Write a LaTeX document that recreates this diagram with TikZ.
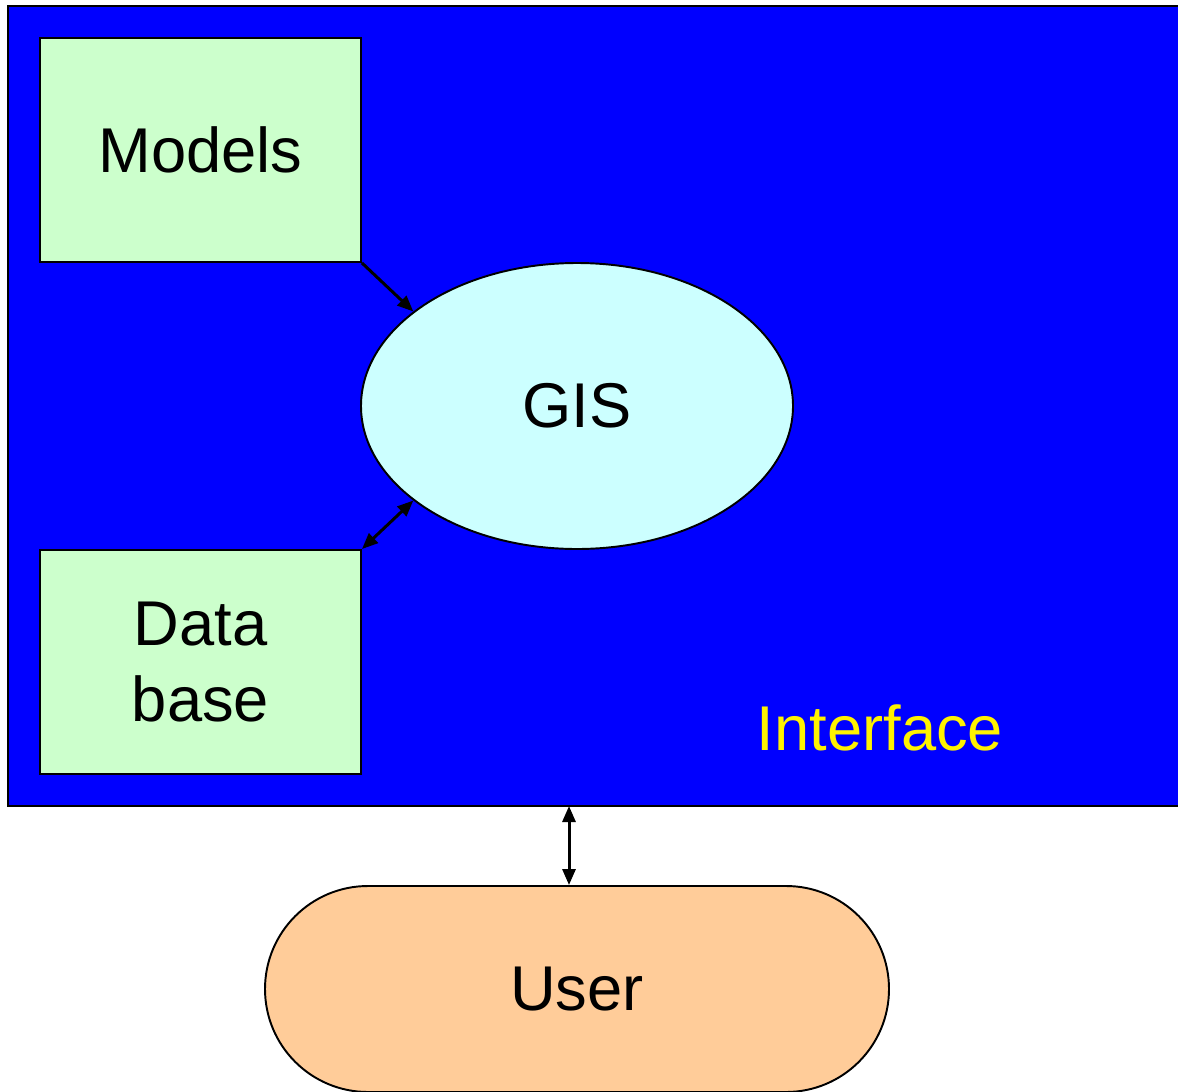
\documentclass[tikz,border=0pt]{standalone}
\usepackage{fontspec}
\setmainfont{Liberation Sans}
\usepackage{tikz}
\usetikzlibrary{arrows.meta,shapes.geometric,positioning}

\definecolor{ifblue}{HTML}{0000FF}
\definecolor{boxgreen}{HTML}{CCFFCC}
\definecolor{gislight}{HTML}{CCFFFF}
\definecolor{userorange}{HTML}{FFCC99}

\begin{document}
\begin{tikzpicture}[>={Triangle[length=0.32cm,width=0.26cm]},font=\fontsize{36}{43}\selectfont]
		\tikzstyle{frame}=[rectangle, draw=black, line width=1.1pt, fill=ifblue, minimum width=23.64cm, minimum height=16cm, inner sep=0pt]
		\tikzstyle{store}=[rectangle, draw=black, line width=1.1pt, fill=boxgreen, minimum width=6.42cm, minimum height=4.48cm, align=center]
		\tikzstyle{core}=[ellipse, draw=black, line width=1.1pt, fill=gislight, minimum width=8.64cm, minimum height=5.72cm]
		\tikzstyle{person}=[rectangle, rounded corners=2.06cm, draw=black, line width=1.1pt, fill=userorange, minimum width=12.48cm, minimum height=4.12cm]
		\tikzstyle{link}=[line width=1.7pt]

		\useasboundingbox (0,0) rectangle (23.56,-21.82);

		\node [frame] (iface) at (11.98,-8.12) {};
		\node [store] (models) at (4.01,-3) {Models};
		\node [store] (data) at (4.01,-13.24) {Data\\base};
		\node [core] (gis) at (11.54,-8.12) {GIS};
		\node [person] (user) at (11.54,-19.78) {User};
		\node [text=yellow] (label) at (17.6,-14.56) {Interface};

		\draw [link,->] (models.south east) -- (gis.150);
		\draw [link,<->] (data.north east) -- (gis.210);
		\coordinate (uplink) at (11.38,-16.12);
		\draw [link,<->] (uplink) -- (uplink |- user.north);
	\end{tikzpicture}
\end{document}
